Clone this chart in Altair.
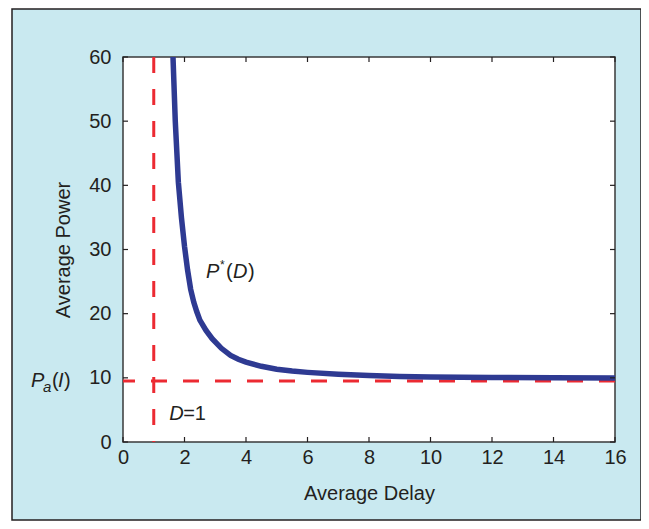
import altair as alt
import pandas as pd

# ---- data ----
delay = [1.55, 1.6, 1.7, 1.8, 1.9, 2.0, 2.1, 2.2, 2.3, 2.4, 2.5, 2.7, 2.9, 3.2, 3.5,
         3.75, 4.0, 4.5, 5.0, 5.5, 6.0, 7.0, 8.0, 9.0, 10.0, 12.0, 14.0, 16.0]
power = [70, 63.5, 50, 40.5, 35, 30.5, 26.8, 23.8, 21.8, 20.3, 19.0, 17.4, 16.1, 14.6, 13.5,
         12.9, 12.45, 11.8, 11.35, 11.05, 10.85, 10.55, 10.35, 10.2, 10.12, 10.06, 10.01, 9.97]
x_ticks = [0, 2, 4, 6, 8, 10, 12, 14, 16]
y_ticks = [0, 10, 20, 30, 40, 50, 60]
pa_level = [9.5]
d_min = [1.0]

# annotation pieces: (text, x, y, dx, dy, size, style)
ann_pstar = [("P", 2.70, 25.56, 0, 0, 20, "italic"),
             ("*", 2.70, 25.56, 14, -9, 12, "normal"),
             ("(", 2.70, 25.56, 20, 0, 20, "normal"),
             ("D", 2.70, 25.56, 27, 0, 20, "italic"),
             (")", 2.70, 25.56, 42, 0, 20, "normal")]
ann_d1 = [("D", 1.50, 3.43, 0, 0, 20, "italic"),
          ("=1", 1.50, 3.43, 14, 0, 20, "normal")]
ann_pa = [("P", -2.99, 8.57, 0, 0, 20, "italic"),
          ("a", -2.99, 8.57, 12, 5, 15, "italic"),
          ("(", -2.99, 8.57, 21, 0, 20, "normal"),
          ("I", -2.99, 8.57, 27, 0, 20, "italic"),
          (")", -2.99, 8.57, 33, 0, 20, "normal")]

W, H = 492, 385
FONT = "Liberation Sans"
TXT = "#231f20"
BLUE = "#2e3a92"
RED = "#ec2a32"
BG = "#c9e9f0"


def X(field):
    return alt.X(field, type="quantitative",
                 scale=alt.Scale(domain=[0, 16], nice=False, zero=False),
                 axis=alt.Axis(title="Average Delay", values=x_ticks, format="d", zindex=2))


def Y(field):
    return alt.Y(field, type="quantitative",
                 scale=alt.Scale(domain=[0, 60], nice=False, zero=False),
                 axis=alt.Axis(title="Average Power", values=y_ticks, format="d", zindex=2))


one = alt.Data(values=[{}])

frame = alt.Chart(one).mark_rect(fill=BG, stroke=TXT, strokeWidth=1.5).encode(
    x=alt.value(-111), x2=alt.value(518), y=alt.value(-48), y2=alt.value(463))

plotbg = alt.Chart(one).mark_rect(fill="white", stroke="#3a3a3a", strokeWidth=1.5).encode(
    x=alt.value(0), x2=alt.value(W), y=alt.value(0), y2=alt.value(H))

hline = alt.Chart(pd.DataFrame({"p": pa_level})).mark_rule(
    color=RED, strokeWidth=3, strokeDash=[16, 16]).encode(y=Y("p"))

vline = alt.Chart(pd.DataFrame({"d": d_min})).mark_rule(
    color=RED, strokeWidth=3, strokeDash=[16, 16]).encode(x=X("d"))

curve = alt.Chart(pd.DataFrame({"D": delay, "P": power})).mark_line(
    clip=True, color=BLUE, strokeWidth=5.5).encode(x=X("D"), y=Y("P"))

xt = pd.DataFrame({"t": x_ticks})
yt = pd.DataFrame({"t": y_ticks})
tick_style = dict(color=TXT, strokeWidth=1.2)
ticks_bottom = alt.Chart(xt).mark_rule(**tick_style).encode(
    x=X("t"), y=alt.value(H), y2=alt.value(H - 5))
ticks_top = alt.Chart(xt).mark_rule(**tick_style).encode(
    x=X("t"), y=alt.value(0), y2=alt.value(5))
ticks_left = alt.Chart(yt).mark_rule(**tick_style).encode(
    y=Y("t"), x=alt.value(0), x2=alt.value(5))
ticks_right = alt.Chart(yt).mark_rule(**tick_style).encode(
    y=Y("t"), x=alt.value(W), x2=alt.value(W - 5))

texts = []
for (t, ax, ay, dx, dy, size, style) in ann_pstar + ann_d1 + ann_pa:
    texts.append(
        alt.Chart(pd.DataFrame({"x": [ax], "y": [ay], "t": [t]})).mark_text(
            align="left", baseline="alphabetic", dx=dx, dy=dy, fontSize=size,
            fontStyle=style, font=FONT, color=TXT).encode(
            x=X("x"), y=Y("y"), text="t:N"))

chart = alt.layer(frame, plotbg, hline, vline, curve,
                  ticks_bottom, ticks_top, ticks_left, ticks_right, *texts).properties(
    width=W, height=H,
    padding={"left": 115, "top": 49, "right": 26, "bottom": 79},
    autosize=alt.AutoSizeParams(type="none"),
    background="white",
).configure_view(strokeWidth=0).configure_axis(
    ticks=False, domain=False, grid=False,
    labelFont=FONT, labelFontSize=20, labelColor=TXT, labelFlush=False,
    titleFont=FONT, titleFontSize=20, titleFontWeight="normal", titleColor=TXT,
).configure_axisX(labelPadding=5, titlePadding=16).configure_axisY(
    labelPadding=12, titlePadding=15)

chart.save("out.html", embed_options={"renderer": "svg", "actions": False})
